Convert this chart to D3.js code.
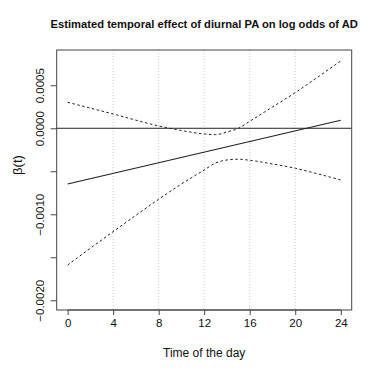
<!DOCTYPE html>
<html>
<head>
<meta charset="utf-8">
<script src="https://cdn.jsdelivr.net/npm/d3@7"></script>
<style>
  body { margin: 0; background: #fff; }
  svg { display: block; font-family: "Liberation Sans", Arial, sans-serif; }
</style>
</head>
<body>
<svg id="chart" width="374" height="374"></svg>
<script>
const hours = [0, 4, 8, 10, 12, 13, 14, 15, 16, 18, 20, 22, 24];
const upperBand = [0.000302, 0.000166, 0.000027, -0.000026, -0.000066, -0.000074, -0.000043, 0.0, 0.000081, 0.000248, 0.000414, 0.000597, 0.000783];
const lowerBand = [-0.00159, -0.001202, -0.000826, -0.000648, -0.000485, -0.000403, -0.000369, -0.00036, -0.000372, -0.000415, -0.000465, -0.000531, -0.000601];
const estHours = [0, 24];
const estimate = [-0.000648, 0.000093];
const xTicks = [0, 4, 8, 12, 16, 20, 24];
const gridHours = [4, 8, 12, 16, 20];
const yTicks = [0.0005, 0, -0.0005, -0.001, -0.0015, -0.002];
// R drops the labels that would overlap
const yLabelled = [0.0005, 0, -0.001, -0.002];

const svg = d3.select('#chart');
const width = 374;
const height = 374;
const margin = { top: 50, right: 22.3, bottom: 64, left: 56.7 };

const x = d3.scaleLinear()
  .domain([-0.96, 24.96])
  .range([margin.left, width - margin.right]);

const y = d3.scaleLinear()
  .domain([-0.002113, 0.00091])
  .range([height - margin.bottom, margin.top]);

const toPts = (xs, ys) => xs.map((h, i) => ({ h, v: ys[i] }));

// vertical dotted grid
svg.append('g')
  .selectAll('line')
  .data(gridHours)
  .join('line')
  .attr('x1', d => x(d))
  .attr('x2', d => x(d))
  .attr('y1', margin.top)
  .attr('y2', height - margin.bottom)
  .attr('stroke', '#c8c8c8')
  .attr('stroke-width', 1)
  .attr('stroke-dasharray', '1,2');

// zero reference line
svg.append('line')
  .attr('x1', margin.left)
  .attr('x2', width - margin.right)
  .attr('y1', y(0))
  .attr('y2', y(0))
  .attr('stroke', '#222')
  .attr('stroke-width', 1);

const line = d3.line()
  .x(d => x(d.h))
  .y(d => y(d.v))
  .curve(d3.curveMonotoneX);

// confidence bands
[upperBand, lowerBand].forEach(band => {
  svg.append('path')
    .datum(toPts(hours, band))
    .attr('fill', 'none')
    .attr('stroke', '#222')
    .attr('stroke-width', 1)
    .attr('stroke-dasharray', '2.5,2.5')
    .attr('d', line);
});

// estimated effect
svg.append('path')
  .datum(toPts(estHours, estimate))
  .attr('fill', 'none')
  .attr('stroke', '#222')
  .attr('stroke-width', 1.2)
  .attr('d', line);

// axes
const xAxis = svg.append('g')
  .attr('transform', `translate(0,${height - margin.bottom})`)
  .call(d3.axisBottom(x).tickValues(xTicks).tickSize(5).tickSizeOuter(0).tickPadding(4));
xAxis.select('.domain').attr('d', `M${x(0)},0H${x(24)}`);

const yAxis = svg.append('g')
  .attr('transform', `translate(${margin.left},0)`)
  .call(d3.axisLeft(y).tickValues(yTicks).tickSize(6).tickSizeOuter(0)
    .tickFormat(d => yLabelled.includes(d) ? d3.format('.4f')(d).replace('-', '\u2212') : ''));
yAxis.select('.domain').remove();
yAxis.selectAll('.tick text')
  .attr('transform', 'rotate(-90)')
  .attr('x', 0)
  .attr('y', -13)
  .attr('dy', 0)
  .attr('text-anchor', 'middle');

svg.selectAll('.tick text').attr('font-size', 11.5).attr('fill', '#111').attr('font-family', '"Liberation Sans", Arial, sans-serif');
svg.selectAll('.tick line').attr('stroke', '#444');
svg.selectAll('.domain').attr('stroke', '#444');

// plot box
svg.append('rect')
  .attr('x', margin.left)
  .attr('y', margin.top)
  .attr('width', width - margin.left - margin.right)
  .attr('height', height - margin.top - margin.bottom)
  .attr('fill', 'none')
  .attr('stroke', '#444')
  .attr('stroke-width', 1);

// titles
svg.append('text')
  .attr('x', (margin.left + width - margin.right) / 2)
  .attr('y', 27.5)
  .attr('text-anchor', 'middle')
  .attr('font-size', 11.2)
  .attr('font-weight', 'bold')
  .attr('fill', '#111')
  .text('Estimated temporal effect of diurnal PA on log odds of AD');

svg.append('text')
  .attr('x', (margin.left + width - margin.right) / 2)
  .attr('y', 357)
  .attr('text-anchor', 'middle')
  .attr('font-size', 12)
  .attr('fill', '#111')
  .text('Time of the day');

svg.append('text')
  .attr('transform', 'translate(21.5,165) rotate(-90)')
  .attr('text-anchor', 'middle')
  .attr('font-size', 13)
  .attr('fill', '#111')
  .text('β(t)');
</script>
</body>
</html>
